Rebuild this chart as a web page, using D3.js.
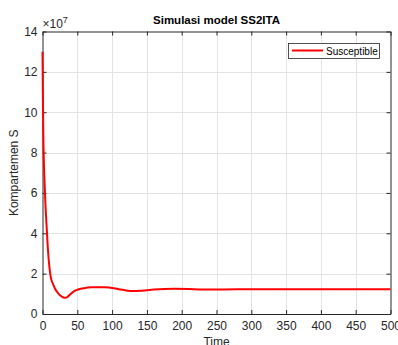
<!DOCTYPE html>
<html>
<head>
<meta charset="utf-8">
<script src="https://cdn.jsdelivr.net/npm/d3@7"></script>
<style>
  body { margin: 0; background: #fff; }
  text { font-family: "Liberation Sans", Arial, sans-serif; }
</style>
</head>
<body>
<svg id="chart" width="398" height="345"></svg>
<script>
// data (S in units of 1e7)
const time = [0, 0.5, 1, 2, 3, 4, 5, 6, 8, 10, 12, 15, 18, 22, 26, 30, 33, 36, 40, 45, 50, 60, 70, 80, 90, 100, 110, 120, 130, 140, 150, 160, 175, 190, 210, 230, 260, 300, 350, 400, 450, 500];
const susceptible = [13.0, 11.0, 9.3, 7.5, 6.5, 5.6, 4.9, 4.3, 3.1, 2.3, 1.8, 1.5, 1.25, 1.05, 0.9, 0.82, 0.8, 0.85, 0.98, 1.12, 1.2, 1.28, 1.32, 1.33, 1.32, 1.29, 1.23, 1.17, 1.14, 1.15, 1.18, 1.21, 1.24, 1.25, 1.24, 1.22, 1.22, 1.23, 1.23, 1.23, 1.23, 1.23];
const xTicks = [0, 50, 100, 150, 200, 250, 300, 350, 400, 450, 500];
const yTicks = [0, 2, 4, 6, 8, 10, 12, 14];

const svg = d3.select("#chart");
const mLeft = 42.5, mRight = 390.5, mTop = 31.5, mBottom = 314;

const x = d3.scaleLinear().domain([0, 500]).range([mLeft, mRight]);
const y = d3.scaleLinear().domain([0, 14]).range([mBottom, mTop]);

// grid
const grid = svg.append("g").attr("stroke", "#e3e3e3").attr("stroke-width", 1);
grid.selectAll(".gx").data(xTicks.slice(1, -1)).enter().append("line")
  .attr("x1", d => Math.round(x(d)) + 0.5).attr("x2", d => Math.round(x(d)) + 0.5)
  .attr("y1", mTop).attr("y2", mBottom);
grid.selectAll(".gy").data(yTicks.slice(1, -1)).enter().append("line")
  .attr("y1", d => Math.round(y(d)) + 0.5).attr("y2", d => Math.round(y(d)) + 0.5)
  .attr("x1", mLeft).attr("x2", mRight);

// axes (ticks inward, box on)
const axisColor = "#262626";
function styleAxis(g) {
  g.select(".domain").attr("stroke", axisColor);
  g.selectAll(".tick line").attr("stroke", axisColor);
  g.selectAll(".tick text").attr("fill", axisColor).style("font-size", "12px");
}
svg.append("g").attr("transform", `translate(0,${mBottom})`)
  .call(d3.axisBottom(x).tickValues(xTicks).tickSizeInner(-4).tickSizeOuter(0).tickPadding(7))
  .call(styleAxis);
svg.append("g").attr("transform", `translate(0,${mTop})`)
  .call(d3.axisTop(x).tickValues(xTicks).tickSizeInner(-4).tickSizeOuter(0).tickFormat(""))
  .call(styleAxis);
svg.append("g").attr("transform", `translate(${mLeft},0)`)
  .call(d3.axisLeft(y).tickValues(yTicks).tickSizeInner(-4).tickSizeOuter(0).tickPadding(5))
  .call(styleAxis);
svg.append("g").attr("transform", `translate(${mRight},0)`)
  .call(d3.axisRight(y).tickValues(yTicks).tickSizeInner(-4).tickSizeOuter(0).tickFormat(""))
  .call(styleAxis);

// curve
const line = d3.line()
  .x((d, i) => x(time[i]))
  .y(d => y(d))
  .curve(d3.curveMonotoneX);
svg.append("path")
  .datum(susceptible)
  .attr("fill", "none")
  .attr("stroke", "#ff0000")
  .attr("stroke-width", 2)
  .attr("d", line);

// exponent label
const expo = svg.append("text").attr("x", mLeft).attr("y", 28)
  .attr("fill", axisColor).style("font-size", "12px");
expo.append("tspan").text("\u00d710");
expo.append("tspan").attr("dy", -5).style("font-size", "9px").text("7");

// title and axis labels
svg.append("text").attr("x", (mLeft + mRight) / 2).attr("y", 24)
  .attr("text-anchor", "middle").attr("font-weight", "bold")
  .style("font-size", "11.5px").attr("fill", "#000")
  .text("Simulasi model SS2ITA");
svg.append("text").attr("x", (mLeft + mRight) / 2).attr("y", 346)
  .attr("text-anchor", "middle").style("font-size", "12px").attr("fill", axisColor)
  .text("Time");
svg.append("text").attr("transform", `translate(18,${(mTop + mBottom) / 2}) rotate(-90)`)
  .attr("text-anchor", "middle").style("font-size", "12px").attr("fill", axisColor)
  .text("Kompartemen S");

// legend
const lg = svg.append("g");
lg.append("rect").attr("x", 288.5).attr("y", 43.5).attr("width", 91).attr("height", 15)
  .attr("fill", "#fff").attr("stroke", axisColor).attr("stroke-width", 0.8);
lg.append("line").attr("x1", 292).attr("x2", 323).attr("y1", 50.5).attr("y2", 50.5)
  .attr("stroke", "#ff0000").attr("stroke-width", 2);
lg.append("text").attr("x", 326).attr("y", 54.5).style("font-size", "10px")
  .attr("fill", "#000").text("Susceptible");
</script>
</body>
</html>
